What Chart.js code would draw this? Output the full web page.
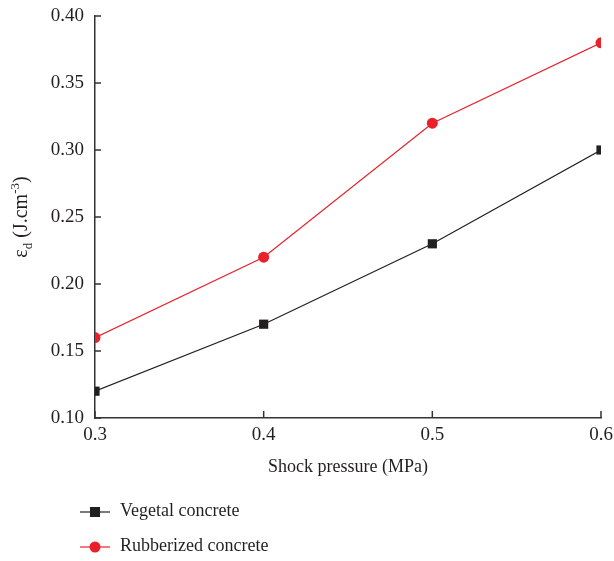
<!DOCTYPE html>
<html>
<head>
<meta charset="utf-8">
<script src="https://cdn.jsdelivr.net/npm/chart.js@4"></script>
<style>
  html, body { margin: 0; padding: 0; background: #fff; overflow: hidden; }
  #wrap { position: relative; width: 640px; height: 561px; }
</style>
</head>
<body>
<div id="wrap"><canvas id="c"></canvas></div>
<script>
// ---- data ----
const pressures = [0.3, 0.4, 0.5, 0.6];
const vegetalConcrete = [0.12, 0.17, 0.23, 0.30];
const rubberizedConcrete = [0.16, 0.22, 0.32, 0.38];
const xTickValues = [0.3, 0.4, 0.5, 0.6];
const yTickValues = [0.10, 0.15, 0.20, 0.25, 0.30, 0.35, 0.40];
const seriesLabels = ['Vegetal concrete', 'Rubberized concrete'];
const xTitle = 'Shock pressure (MPa)';
const yTitleParts = { base: 'ε', sub: 'd', mid: ' (J.cm', sup: '-3', end: ')' };

const FONT = '"Liberation Serif", "Times New Roman", serif';
const TEXT = '#231f20';
const AXIS = '#333333';
const RED = '#e8212b';
const BLACK = '#231f20';

const toPts = ys => pressures.map((x, i) => ({ x: x, y: ys[i] }));

const inwardTicks = {
  id: 'inwardTicks',
  afterDraw(chart) {
    const ctx = chart.ctx, xs = chart.scales.x, ys = chart.scales.y;
    const a = chart.chartArea;
    ctx.save();
    ctx.strokeStyle = AXIS;
    ctx.lineWidth = 1.5;
    ctx.beginPath();
    xs.ticks.forEach(t => {
      const px = xs.getPixelForValue(t.value);
      ctx.moveTo(px, a.bottom); ctx.lineTo(px, a.bottom - 7);
    });
    ys.ticks.forEach(t => {
      const py = ys.getPixelForValue(t.value);
      ctx.moveTo(a.left, py); ctx.lineTo(a.left + 6, py);
    });
    ctx.stroke();
    ctx.restore();
  }
};

const yTitlePlugin = {
  id: 'yTitle',
  afterDraw(chart) {
    const ctx = chart.ctx, a = chart.chartArea;
    const big = '20px ' + FONT, small = '13px ' + FONT;
    const parts = [
      { t: yTitleParts.base, f: big, dy: 0 },
      { t: yTitleParts.sub, f: small, dy: 5 },
      { t: yTitleParts.mid, f: big, dy: 0 },
      { t: yTitleParts.sup, f: small, dy: -8 },
      { t: yTitleParts.end, f: big, dy: 0 }
    ];
    ctx.save();
    let total = 0;
    parts.forEach(p => { ctx.font = p.f; p.w = ctx.measureText(p.t).width; total += p.w; });
    const cy = (a.top + a.bottom) / 2;
    ctx.translate(27, cy);
    ctx.rotate(-Math.PI / 2);
    ctx.fillStyle = TEXT;
    ctx.textBaseline = 'alphabetic';
    let x = -total / 2;
    parts.forEach(p => { ctx.font = p.f; ctx.fillText(p.t, x, p.dy); x += p.w; });
    ctx.restore();
  }
};

const legendPlugin = {
  id: 'sideLegend',
  afterDraw(chart) {
    const ctx = chart.ctx;
    const rows = [512, 547];
    ctx.save();
    chart.data.datasets.forEach((ds, i) => {
      const y = rows[i];
      ctx.strokeStyle = ds.borderColor;
      ctx.lineWidth = 1.2;
      ctx.beginPath(); ctx.moveTo(80, y); ctx.lineTo(110, y); ctx.stroke();
      ctx.fillStyle = ds.pointBackgroundColor;
      if (ds.pointStyle === 'rect') {
        ctx.fillRect(95 - 5, y - 5, 10, 10);
      } else {
        ctx.beginPath(); ctx.arc(95, y, 5.5, 0, Math.PI * 2); ctx.fill();
      }
      ctx.fillStyle = TEXT;
      ctx.font = '18px ' + FONT;
      ctx.textBaseline = 'middle';
      ctx.fillText(ds.label, 120, y - 1);
    });
    ctx.restore();
  }
};

new Chart(document.getElementById('c'), {
  type: 'line',
  data: {
    datasets: [
      {
        label: seriesLabels[0],
        data: toPts(vegetalConcrete),
        borderColor: BLACK, backgroundColor: BLACK,
        pointBackgroundColor: BLACK, pointBorderColor: BLACK,
        pointStyle: 'rect', pointRadius: 6.5, pointBorderWidth: 0,
        borderWidth: 1.2, tension: 0, clip: 0
      },
      {
        label: seriesLabels[1],
        data: toPts(rubberizedConcrete),
        borderColor: RED, backgroundColor: RED,
        pointBackgroundColor: RED, pointBorderColor: RED,
        pointStyle: 'circle', pointRadius: 5.5, pointBorderWidth: 0,
        borderWidth: 1.2, tension: 0, clip: 0
      }
    ]
  },
  options: {
    responsive: true,
    maintainAspectRatio: false,
    animation: false,
    devicePixelRatio: 1,
    layout: { padding: { left: 0, top: 16, right: 39, bottom: 79 } },
    plugins: { legend: { display: false }, tooltip: { enabled: false } },
    scales: {
      x: {
        type: 'linear', min: 0.3, max: 0.6,
        afterBuildTicks: s => { s.ticks = xTickValues.map(v => ({ value: v })); },
        afterFit: s => { s.height = 64; s.paddingLeft = 0; s.paddingRight = 0; },
        ticks: {
          padding: 6, color: TEXT, maxRotation: 0,
          font: { family: FONT, size: 19 },
          callback: v => Number(v).toFixed(1)
        },
        grid: { display: true, drawOnChartArea: false, drawTicks: false },
        border: { display: true, color: AXIS, width: 1.5 },
        title: { display: true, text: xTitle, color: TEXT, font: { family: FONT, size: 18 } }
      },
      y: {
        type: 'linear', min: 0.1, max: 0.4,
        afterBuildTicks: s => { s.ticks = yTickValues.map(v => ({ value: v })); },
        afterFit: s => { s.width = 95; s.paddingTop = 0; s.paddingBottom = 0; },
        ticks: {
          padding: 11, color: TEXT,
          font: { family: FONT, size: 19 },
          callback: v => Number(v).toFixed(2)
        },
        grid: { display: true, drawOnChartArea: false, drawTicks: false },
        border: { display: true, color: AXIS, width: 1.5 }
      }
    }
  },
  plugins: [inwardTicks, yTitlePlugin, legendPlugin]
});
</script>
</body>
</html>
